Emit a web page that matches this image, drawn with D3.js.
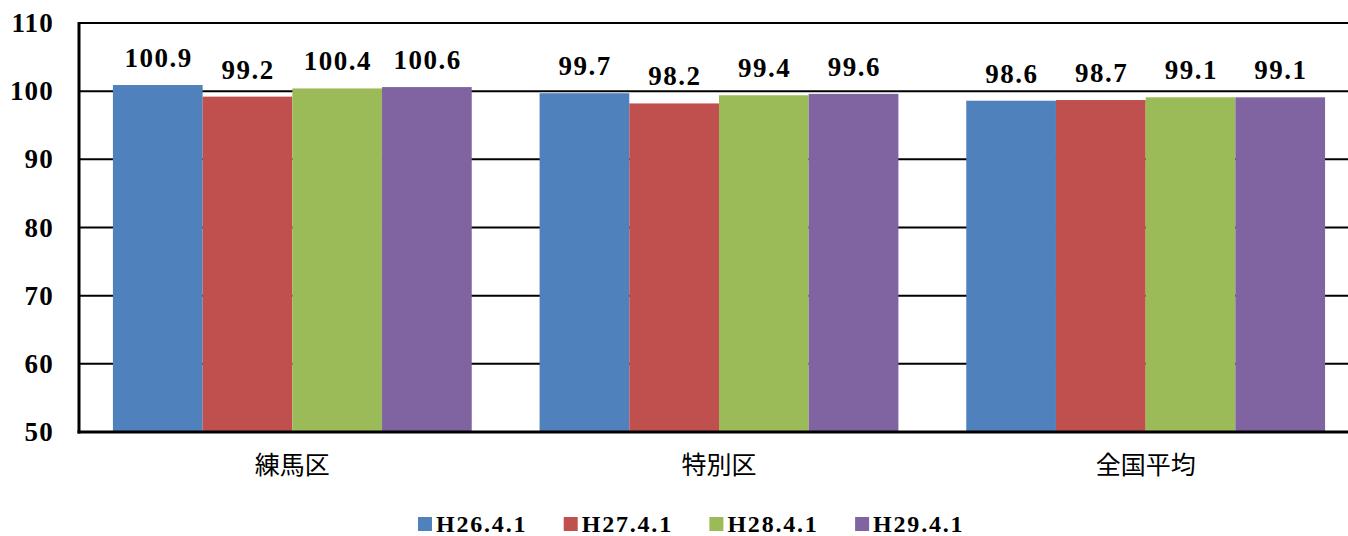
<!DOCTYPE html>
<html>
<head>
<meta charset="utf-8">
<script src="https://cdn.jsdelivr.net/npm/d3@7"></script>
<style>
  html, body { margin: 0; padding: 0; background: #fff; }
  svg { display: block; }
</style>
</head>
<body>
<svg id="chart" width="1348" height="536"></svg>
<script>
// Regions compared and the survey dates
const categories = ["練馬区", "特別区", "全国平均"];
const seriesNames = ["H26.4.1", "H27.4.1", "H28.4.1", "H29.4.1"];
const seriesColors = ["#4F81BD", "#C0504D", "#9BBB59", "#8064A2"];

// Index values per survey date, one entry per region
const valuesH26 = [100.9, 99.7, 98.6];
const valuesH27 = [99.2, 98.2, 98.7];
const valuesH28 = [100.4, 99.4, 99.1];
const valuesH29 = [100.6, 99.6, 99.1];
const seriesValues = [valuesH26, valuesH27, valuesH28, valuesH29];

const yTicks = [50, 60, 70, 80, 90, 100, 110];

const svg = d3.select("#chart");
const plot = { left: 79, right: 1359, top: 23, bottom: 432 };

const x0 = d3.scaleBand()
  .domain(categories)
  .range([plot.left, plot.right])
  .paddingInner(0.159)
  .paddingOuter(0.0795);

const x1 = d3.scaleBand()
  .domain(seriesNames)
  .range([0, x0.bandwidth()])
  .padding(0);

const y = d3.scaleLinear()
  .domain([50, 110])
  .range([plot.bottom, plot.top]);

const serif = "'Liberation Serif', 'Times New Roman', serif";
const gothic = "'Noto Sans CJK JP', 'Noto Sans', sans-serif";

// Horizontal gridlines
svg.append("g")
  .selectAll("line")
  .data(yTicks.filter(t => t > 50))
  .join("line")
  .attr("x1", plot.left)
  .attr("x2", plot.right)
  .attr("y1", d => y(d))
  .attr("y2", d => y(d))
  .attr("stroke", "#000")
  .attr("stroke-width", 2);

// Bars
const rows = categories.map((c, i) => ({
  category: c,
  items: seriesNames.map((s, j) => ({ series: s, value: seriesValues[j][i], color: seriesColors[j] }))
}));

const groups = svg.append("g")
  .selectAll("g")
  .data(rows)
  .join("g")
  .attr("transform", d => `translate(${x0(d.category)},0)`);

groups.selectAll("rect")
  .data(d => d.items)
  .join("rect")
  .attr("x", d => x1(d.series))
  .attr("width", x1.bandwidth())
  .attr("y", d => y(d.value))
  .attr("height", d => y(50) - y(d.value))
  .attr("fill", d => d.color);

// Value labels above bars
groups.selectAll("text")
  .data(d => d.items)
  .join("text")
  .attr("x", d => x1(d.series) + x1.bandwidth() / 2 + 0.75)
  .attr("y", d => y(d.value) - 18)
  .attr("text-anchor", "middle")
  .attr("font-family", serif)
  .attr("font-weight", "bold")
  .attr("font-size", 27)
  .attr("letter-spacing", 1.5)
  .attr("fill", "#000")
  .text(d => d.value.toFixed(1));

// Y axis
const yAxis = d3.axisLeft(y).tickValues(yTicks).tickSize(0).tickPadding(25);
const yg = svg.append("g")
  .attr("transform", `translate(${plot.left},0)`)
  .call(yAxis);
yg.select(".domain").remove();
yg.selectAll("text")
  .attr("font-family", serif)
  .attr("font-weight", "bold")
  .attr("font-size", 27)
  .attr("letter-spacing", 1.2)
  .attr("fill", "#000");

// Axis lines
svg.append("line")
  .attr("x1", plot.left).attr("x2", plot.left)
  .attr("y1", plot.top - 1).attr("y2", plot.bottom + 1.5)
  .attr("stroke", "#000").attr("stroke-width", 3);
svg.append("line")
  .attr("x1", plot.left - 1.5).attr("x2", plot.right)
  .attr("y1", plot.bottom).attr("y2", plot.bottom)
  .attr("stroke", "#000").attr("stroke-width", 3);

// Category labels
const xAxis = d3.axisBottom(x0).tickSize(0).tickPadding(24);
const xg = svg.append("g")
  .attr("transform", `translate(0,${plot.bottom})`)
  .call(xAxis);
xg.select(".domain").remove();
xg.selectAll("text")
  .attr("font-family", gothic)
  .attr("font-size", 25)
  .attr("fill", "#000");

// Legend
const legend = svg.append("g").attr("transform", "translate(418,517)");
const legendItems = legend.selectAll("g")
  .data(seriesNames)
  .join("g")
  .attr("transform", (d, i) => `translate(${i * 145.7},0)`);
legendItems.append("rect")
  .attr("width", 14).attr("height", 14)
  .attr("fill", (d, i) => seriesColors[i]);
legendItems.append("text")
  .attr("x", 18)
  .attr("y", 7)
  .attr("dy", "0.34em")
  .attr("font-family", serif)
  .attr("font-weight", "bold")
  .attr("font-size", 24)
  .attr("letter-spacing", 1.8)
  .attr("fill", "#000")
  .text(d => d);
</script>
</body>
</html>
